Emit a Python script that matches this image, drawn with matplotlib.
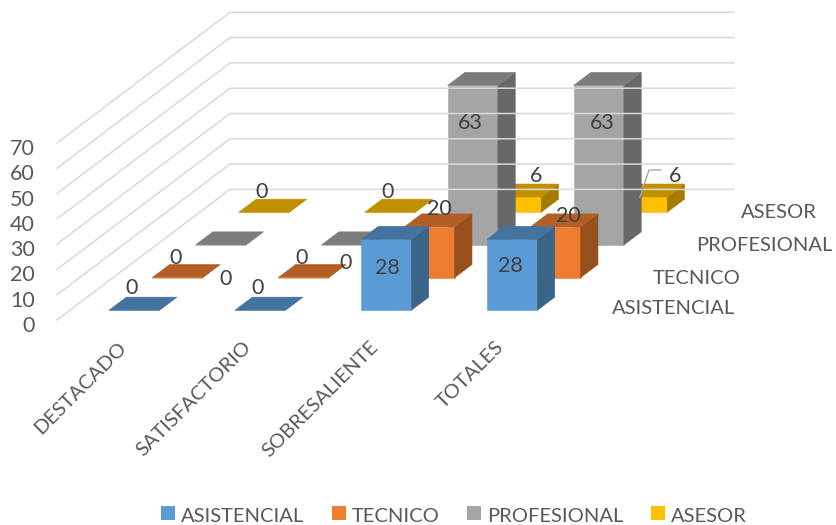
#! /usr/bin/env python3

import matplotlib
matplotlib.use("Agg")
import matplotlib.pyplot as plt
from matplotlib.patches import Patch

plt.rcParams["font.family"] = ["Lato", "DejaVu Sans"]

categories = ["DESTACADO", "SATISFACTORIO", "SOBRESALIENTE", "TOTALES"]
series_names = ["ASISTENCIAL", "TECNICO", "PROFESIONAL", "ASESOR"]
asistencial = [0, 0, 28, 28]
tecnico = [0, 0, 20, 20]
profesional = [0, 0, 63, 63]
asesor = [0, 0, 6, 6]
y_ticks = [0, 10, 20, 30, 40, 50, 60, 70]

values = [asistencial, tecnico, profesional, asesor]

# front, side, top shade per series
colors = [("#5B9BD5", "#3A6488", "#44739F"),
          ("#ED7D31", "#95501C", "#B35E25"),
          ("#A5A5A5", "#686868", "#7C7C7C"),
          ("#FFC000", "#A67C00", "#C09000")]

# label offsets in px from the top front centre of each bar, per series then category
label_offsets = [[(-1, 22), (-1, 22), (2, -29), (-1, -27)],
                 [(-1, 20), (-1, 20), (11, 18), (14, 11)],
                 [(6, -34), (0, -18), (-1, -37), (5, -37)],
                 [(-1, 20), (-1, 20), (21, 21), (34, 21)]]

# oblique projection of the excel 3d box, in image pixels
X0, Y0 = 57.0, 320.0
CAT_W = 126.0
DEPTH_X, DEPTH_Y = 173.0 / len(series_names), 130.6 / len(series_names)
PX_PER_UNIT = 2.53
FONT = 14.5
NUM_FONT = 15.5


def project(cat, ser, val):
    return (X0 + cat * CAT_W + ser * DEPTH_X,
            Y0 - ser * DEPTH_Y - val * PX_PER_UNIT)


def draw_bar(ax, cat, ser, val, shades):
    x0, x1 = cat + 0.31, cat + 0.71
    s0, s1 = ser + 0.3, ser + 0.7
    front = [project(x0, s0, 0), project(x1, s0, 0), project(x1, s0, val), project(x0, s0, val)]
    side = [project(x1, s0, 0), project(x1, s1, 0), project(x1, s1, val), project(x1, s0, val)]
    top = [project(x0, s0, val), project(x1, s0, val), project(x1, s1, val), project(x0, s1, val)]
    for poly, col in zip((front, side, top), shades):
        ax.fill(*zip(*poly), facecolor=col, edgecolor=col, linewidth=0.4)


def draw_grid(ax):
    n = len(categories)
    m = len(series_names)
    for t in y_ticks:
        pts = [project(0, 0, t), project(0, m, t), project(n, m, t)]
        ax.plot(*zip(*pts), color="#D9D9D9", linewidth=1.1, solid_joinstyle="miter")
        x, y = project(0, 0, t)
        ax.text(35, y + 6, str(t), ha="right", va="center", fontsize=NUM_FONT, color="#595959")


def main():
    fig = plt.figure(figsize=(8.36, 5.25), dpi=100)
    ax = fig.add_axes([0, 0, 1, 1])
    ax.set_xlim(0, 836)
    ax.set_ylim(525, 0)
    ax.axis("off")

    draw_grid(ax)

    for ser in reversed(range(len(series_names))):
        for cat in range(len(categories)):
            draw_bar(ax, cat, ser, values[ser][cat], colors[ser])

    for ser in range(len(series_names)):
        for cat in range(len(categories)):
            val = values[ser][cat]
            x, y = project(cat + 0.5, ser + 0.3, val)
            dx, dy = label_offsets[ser][cat]
            ax.text(x + dx, y - dy, str(val), ha="center", va="center",
                    fontsize=NUM_FONT, color="#404040")

    # leader line of the last label
    ax.plot([640, 649, 661], [197, 170, 170], color="#A6A6A6", linewidth=1.0)

    # depth axis labels are not aligned in the original
    for name, right, y in zip(series_names, [735, 741, 833, 817], [309, 278.5, 245.5, 212.5]):
        ax.text(right, y, name, ha="right", va="center", fontsize=FONT, color="#595959")

    for name, x, y in zip(categories, [124, 248, 375, 501], [345, 344, 344, 344]):
        ax.text(x, y, name, rotation=45, rotation_mode="anchor", ha="right", va="center",
                fontsize=FONT, color="#595959")

    handles = [Patch(facecolor=c[0], edgecolor="none") for c in colors]
    leg = ax.legend(handles, series_names, loc="lower left", bbox_to_anchor=(161 / 836, 0.0),
                    ncol=4, frameon=False, fontsize=FONT, labelcolor="#595959",
                    handlelength=0.7, handleheight=0.7, handletextpad=0.3,
                    columnspacing=1.36, borderpad=0.0, borderaxespad=0.0)
    for h in leg.legend_handles:
        h.set_y(1.5)

    fig.savefig("out.png", dpi=100)


if __name__ == "__main__":
    main()
